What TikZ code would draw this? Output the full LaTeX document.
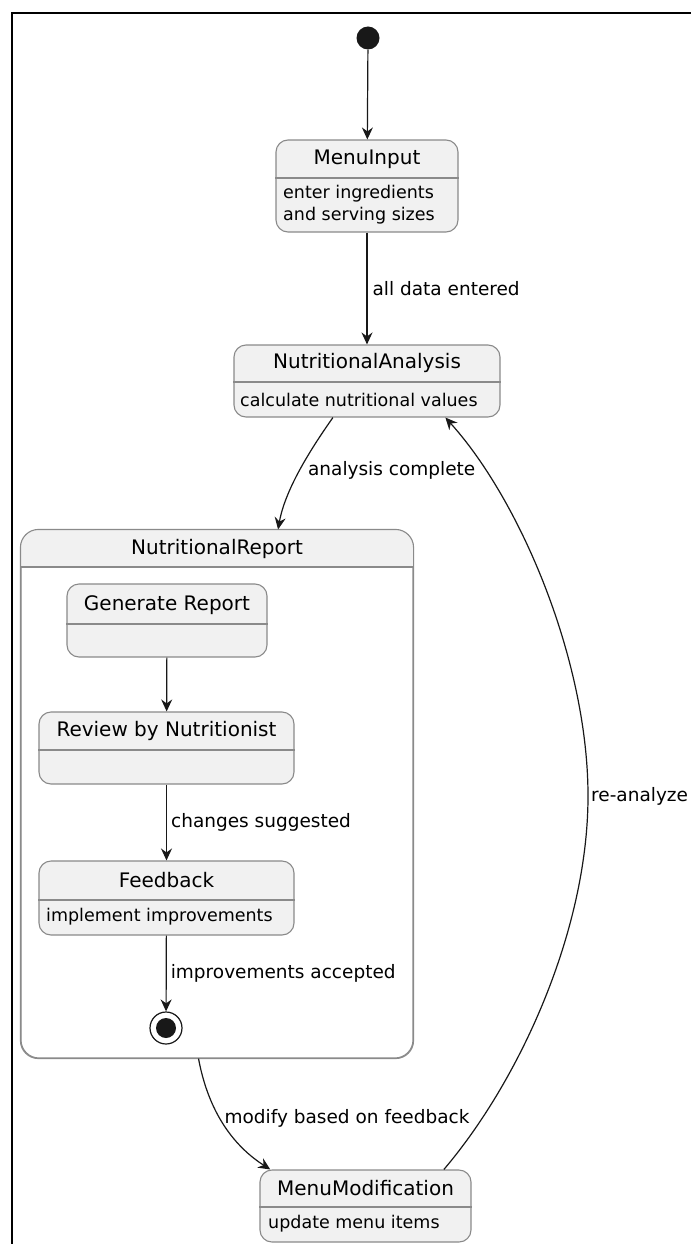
\documentclass[tikz,border=0pt]{standalone}
\usepackage{fontspec}
\setmainfont{DejaVu Sans}
\usepackage{tikz}
\usetikzlibrary{arrows.meta}

\definecolor{stateFill}{HTML}{F1F1F1}
\definecolor{stateLine}{HTML}{8A8A8A}
\definecolor{arrowLine}{HTML}{181818}

\begin{document}
\begin{tikzpicture}[x=1pt, y=-1pt,
  state/.style={draw=stateLine, fill=stateFill, line width=1.1pt,
    rounded corners=12pt, inner sep=0pt},
  divider/.style={draw=stateLine, line width=1.1pt},
  stitle/.style={inner sep=0pt, font=\fontsize{20}{24}\selectfont},
  sdesc/.style={inner sep=0pt, anchor=west, align=left,
    font=\fontsize{17.5}{22}\selectfont},
  tlabel/.style={inner sep=0pt, font=\fontsize{18.5}{22}\selectfont},
  trans/.style={draw=arrowLine, line width=1.2pt,
    -{Stealth[length=12pt, width=11pt, inset=4pt]}}]
  \useasboundingbox (0,0) rectangle (691,1244);
  \draw[line width=1.8pt] (12,1244) -- (12,13) -- (691,13);

  \node[circle, fill=arrowLine, minimum size=23pt, inner sep=0pt] (start) at (368,38) {};

  \node[state, minimum width=182pt, minimum height=92pt] (menuInput) at (367,186) {};
  \node[stitle] (menuInputTitle) at (367,159) {MenuInput};
  \draw[divider] (menuInput.west |- 0,178) -- (menuInput.east |- 0,178);
  \node[sdesc] (menuInputDesc) at (283,205) {enter ingredients\\and serving sizes};

  \node[state, minimum width=266pt, minimum height=72pt] (nutAnalysis) at (367,381) {};
  \node[stitle] (nutAnalysisTitle) at (367,363) {NutritionalAnalysis};
  \draw[divider] (nutAnalysis.west |- 0,382) -- (nutAnalysis.east |- 0,382);
  \node[sdesc] (nutAnalysisDesc) at (240,400) {calculate nutritional values};

  \node[state, fill=white, rounded corners=18pt, minimum width=392pt, minimum height=528pt] (nutReport) at (217,794) {};
  \fill[stateFill] (nutReport.west |- 0,567) [rounded corners=18pt] -- (nutReport.north west)
    -- (nutReport.north east) [sharp corners] -- (nutReport.east |- 0,567) -- cycle;
  \draw[stateLine, line width=1.1pt, rounded corners=18pt] (nutReport.north west) rectangle (nutReport.south east);
  \node[stitle] (nutReportTitle) at (217,549) {NutritionalReport};
  \draw[divider] (nutReport.west |- 0,567) -- (nutReport.east |- 0,567);

  \node[state, minimum width=200pt, minimum height=73pt] (genReport) at (167,620.5) {};
  \node[stitle] (genReportTitle) at (167,605) {Generate Report};
  \draw[divider] (genReport.west |- 0,624) -- (genReport.east |- 0,624);

  \node[state, minimum width=255pt, minimum height=72pt] (review) at (166.5,748) {};
  \node[stitle] (reviewTitle) at (166.5,731) {Review by Nutritionist};
  \draw[divider] (review.west |- 0,750) -- (review.east |- 0,750);

  \node[state, minimum width=255pt, minimum height=74pt] (feedback) at (166.5,898) {};
  \node[stitle] (feedbackTitle) at (166.5,880) {Feedback};
  \draw[divider] (feedback.west |- 0,900) -- (feedback.east |- 0,900);
  \node[sdesc] (feedbackDesc) at (46,917) {implement improvements};

  \node[circle, draw=arrowLine, fill=white, line width=1.2pt, minimum size=32pt, inner sep=0pt] (stop) at (166,1028) {};
  \node[circle, fill=arrowLine, minimum size=20pt, inner sep=0pt] (stopDot) at (stop) {};

  \node[state, minimum width=211pt, minimum height=72pt] (menuMod) at (365.5,1206) {};
  \node[stitle] (menuModTitle) at (365.5,1188) {MenuModification};
  \draw[divider] (menuMod.west |- 0,1207) -- (menuMod.east |- 0,1207);
  \node[sdesc] (menuModDesc) at (268,1224) {update menu items};

  \draw[trans] (start) -- (menuInput);
  \draw[trans] (menuInput) -- (nutAnalysis)
    node[tlabel, midway, anchor=west, xshift=5pt] {all data entered};
  \draw[trans] (nutAnalysis.-133) .. controls (310,450) and (285,490) .. (nutReport.77)
    node[tlabel, pos=0.5, anchor=west, xshift=8pt] {analysis complete};
  \draw[trans] (genReport) -- (review);
  \draw[trans] (review) -- (feedback)
    node[tlabel, midway, anchor=west, xshift=4pt] {changes suggested};
  \draw[trans] (feedback) -- (stop)
    node[tlabel, midway, anchor=west, xshift=4pt] {improvements accepted};
  \draw[trans] (nutReport.-94) .. controls (210,1120) and (240,1150) .. (menuMod.159)
    node[tlabel, pos=0.4, anchor=west, xshift=4pt] {modify based on feedback};
  \coordinate (reAnalyze) at (588,796);
  \draw[trans] (menuMod.25) .. controls (520,1080) and (588,930) .. (reAnalyze)
    .. controls (588,660) and (520,500) .. (nutAnalysis.-25);
  \node[tlabel, anchor=west] (reAnalyzeLabel) at ([xshift=3pt]reAnalyze) {re-analyze};
\end{tikzpicture}
\end{document}
